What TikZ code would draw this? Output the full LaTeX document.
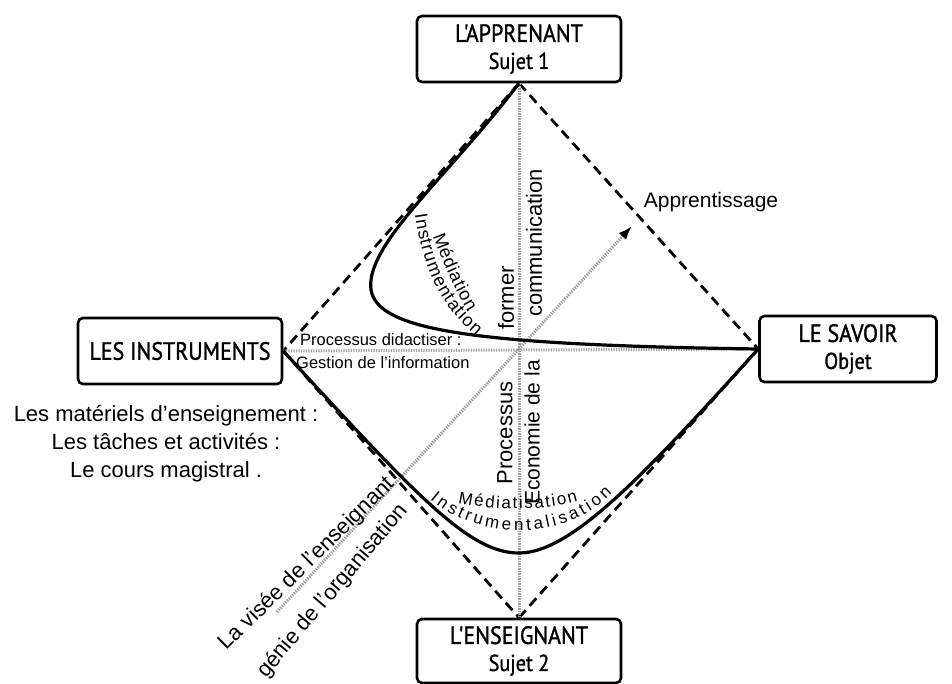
\documentclass[tikz,border=0pt]{standalone}
\usepackage{fontspec}
\setmainfont{Liberation Sans}
\newfontfamily\boxfont[FakeStretch=0.88,FakeBold=1.2]{PT Sans}
\usetikzlibrary{arrows.meta,decorations.text}

\tikzset{
  box/.style={draw, line width=2.6pt, rounded corners=5pt, minimum width=204pt,
    minimum height=66pt, align=center, inner sep=2pt,
    font=\boxfont\fontsize{25}{27}\selectfont},
  dashline/.style={line width=2.8pt, dash pattern=on 10pt off 6pt},
  dotline/.style={line width=3pt, gray!75, dash pattern=on 1.4pt off 1.1pt},
  curve/.style={line width=3.2pt},
  lbl/.style={inner sep=0pt, font=\fontsize{22}{28}\selectfont},
  small/.style={inner sep=0pt, font=\fontsize{16.5}{18}\selectfont},
}

\begin{document}
\begin{tikzpicture}[x=1pt,y=-1pt]
\useasboundingbox (0,0) rectangle (952,684);

% boxes
\node[box] (app) at (519,49) {L'APPRENANT\\ \fontsize{23}{27}\selectfont Sujet 1};
\node[box] (ins) at (180,351) {LES INSTRUMENTS};
\node[box, minimum width=177pt] (sav) at (848,349) {LE SAVOIR\\ \fontsize{23}{27}\selectfont Objet};
\node[box, minimum height=64pt] (ens) at (519,651) {L'ENSEIGNANT\\ \fontsize{23}{27}\selectfont Sujet 2};

% dashed sides
\draw[dashline] (app.south) -- (ins.east);
\draw[dashline] (app.south) -- (sav.west);
\draw[dashline] (ins.east) -- (ens.north);
\draw[dashline] (ens.north) -- (sav.west);

% dotted axes
\draw[dotline] (app.south) -- (ens.north);
\draw[dotline] (ins.east) -- (sav.west);
\coordinate (vstart) at (277,612);
\coordinate (atip) at (632,226);
\draw[dotline, -{Latex[length=14pt, width=10pt, color=black]}] (vstart) -- (atip);

% curves
\coordinate (nose) at (371,290);
\coordinate (dip) at (519,553);
\draw[curve] (app.south) .. controls (445,180) and (365,245) .. (nose)
  .. controls (378,330) and (470,345) .. (sav.west);
\draw[curve] (ins.east) .. controls (420,500) and (470,553) .. (dip)
  .. controls (570,553) and (640,480) .. (sav.west);

% labels
\node[lbl, font=\fontsize{21}{24}\selectfont] (appr) at (711,202) {Apprentissage};
\node[small, anchor=west] (proc) at (300,340) {Processus didactiser :};
\node[small, anchor=west] (gest) at (296,363) {Gestion de l'information};
\node[lbl, align=center] (mat) at (166,444) {Les matériels d'enseignement :\\Les tâches et activités :\\Le cours magistral .};

\node[lbl, rotate=90] (form) at (506,298) {former};
\node[lbl, rotate=90] (procb) at (505,433) {Processus};
\node[lbl, rotate=90] (comm) at (534,243) {communication};
\node[lbl, rotate=90, anchor=east, font=\fontsize{21}{24}\selectfont] (eco) at (532,360) {Economie de la};

\node[lbl, rotate=44.5] (vis) at (307,564) {La visée de l'enseignant};
\node[lbl, rotate=49.6] (gen) at (333,591) {génie de l'organisation};

% text on the curves
\path[decorate, decoration={text along path, text align={fit to path},
  text={|\fontsize{18}{18}\selectfont|Médiation}}]
  (433,236) .. controls (443,262) and (452,285) .. (468,312);
\path[decorate, decoration={text along path, text align={fit to path},
  text={|\fontsize{18}{18}\selectfont|Instrumentation}}]
  (415,214) .. controls (422,262) and (436,302) .. (476,336);
\path[decorate, decoration={text along path, text align={fit to path},
  text={|\fontsize{17}{17}\selectfont|Médiatisation}}]
  (458,503) .. controls (495,511) and (545,511) .. (578,501);
\path[decorate, decoration={text along path, text align={fit to path},
  text={|\fontsize{17}{17}\selectfont|Instrumentalisation}}]
  (430,499) .. controls (480,542) and (565,542) .. (612,493);
\end{tikzpicture}
\end{document}
